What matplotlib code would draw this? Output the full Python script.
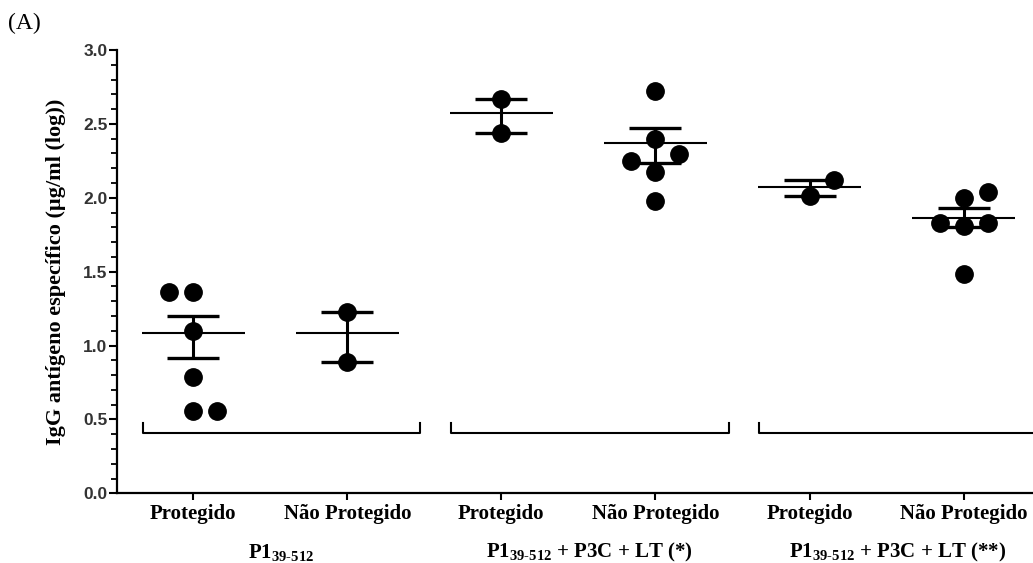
import numpy as np
import matplotlib
matplotlib.use('Agg')
import matplotlib.pyplot as plt
from matplotlib.ticker import MultipleLocator, FormatStrFormatter

# data
conditions = ['Protegido', 'Não Protegido'] * 3
groups = [r'P1$_{\rm 39\text{-}512}$',
          r'P1$_{\rm 39\text{-}512}$ + P3C + LT (*)',
          r'P1$_{\rm 39\text{-}512}$ + P3C + LT (**)']

# individual values per column, and their jitter column (-1, 0, +1)
values = [
    [1.36, 1.36, 1.10, 0.785, 0.56, 0.56],
    [1.229, 0.886],
    [2.671, 2.435],
    [2.722, 2.397, 2.250, 2.294, 2.176, 1.978],
    [2.120, 2.011],
    [2.000, 2.037, 1.827, 1.809, 1.831, 1.482],
]
jitter = [
    [-1, 0, 0, 0, 0, 1],
    [0, 0],
    [0, 0],
    [0, 0, -1, 1, 0, 0],
    [1, 0],
    [0, 1, -1, 0, 1, 0],
]
means = [1.085, 1.085, 2.571, 2.368, 2.070, 1.861]
err_upper = [1.200, 1.229, 2.671, 2.474, 2.120, 1.928]
err_lower = [0.914, 0.886, 2.435, 2.237, 2.014, 1.804]

plt.rcParams['mathtext.fontset'] = 'custom'
plt.rcParams['mathtext.rm'] = 'Liberation Serif:bold'
plt.rcParams['mathtext.bf'] = 'Liberation Serif:bold'
plt.rcParams['mathtext.it'] = 'Liberation Serif:bold'

fig = plt.figure(figsize=(10.33, 5.63), dpi=100)
ax = fig.add_axes([0.1133, 0.1238, 0.8867, 0.7874])

xpos = np.arange(1, len(conditions) + 1)

for i, x in enumerate(xpos):
    xs = x + np.array(jitter[i]) * 0.156
    ax.plot(xs, values[i], 'o', color='black', ms=12.5, zorder=3)

ax.hlines(means, xpos - 0.335, xpos + 0.335, color='black', lw=1.5, zorder=2)
# error bars (mean - lower cap, upper cap - mean)
mid = np.array(means)
yerr = [mid - np.array(err_lower), np.array(err_upper) - mid]
ax.errorbar(xpos, mid, yerr=yerr, fmt='none', ecolor='black',
            elinewidth=2.2, capsize=19, capthick=2.4, zorder=2)

# brackets under each pair
for g in range(3):
    c = xpos[2 * g] + 0.5
    left, right = c - 0.825, c + 0.975
    ax.plot([left, left, right, right], [0.475, 0.41, 0.41, 0.475],
            color='black', lw=1.5, clip_on=True)
    ax.text(c + 0.07, -0.133, groups[g], transform=ax.get_xaxis_transform(),
            ha='center', va='center', fontsize=15, fontweight='bold',
            family='Liberation Serif')

ax.set_xlim(0.506, 6.45)
ax.set_ylim(0, 3.0)
ax.set_xticks(xpos)
ax.set_xticklabels(conditions, fontsize=15, fontweight='bold',
                   family='Liberation Serif')
ax.yaxis.set_major_locator(MultipleLocator(0.5))
ax.yaxis.set_minor_locator(MultipleLocator(0.1))
ax.yaxis.set_major_formatter(FormatStrFormatter('%.1f'))
for lab in ax.get_yticklabels():
    lab.set_family('Liberation Sans')
    lab.set_fontweight('bold')
    lab.set_fontsize(12.5)
    lab.set_color('#333333')

ax.tick_params(axis='y', which='major', length=6, width=1.5, pad=1)
ax.tick_params(axis='y', which='minor', length=4, width=1.3)
ax.tick_params(axis='x', length=5, width=1.5, pad=3)

for s in ['top', 'right']:
    ax.spines[s].set_visible(False)
for s in ['left', 'bottom']:
    ax.spines[s].set_linewidth(1.6)

ax.set_ylabel('IgG antígeno específico (µg/ml (log))', fontsize=16,
              fontweight='bold', family='Liberation Serif', labelpad=12)

fig.text(0.008, 0.958, '(A)', fontsize=17, family='Liberation Serif',
         ha='left', va='center')

fig.savefig('out.png', dpi=100)
